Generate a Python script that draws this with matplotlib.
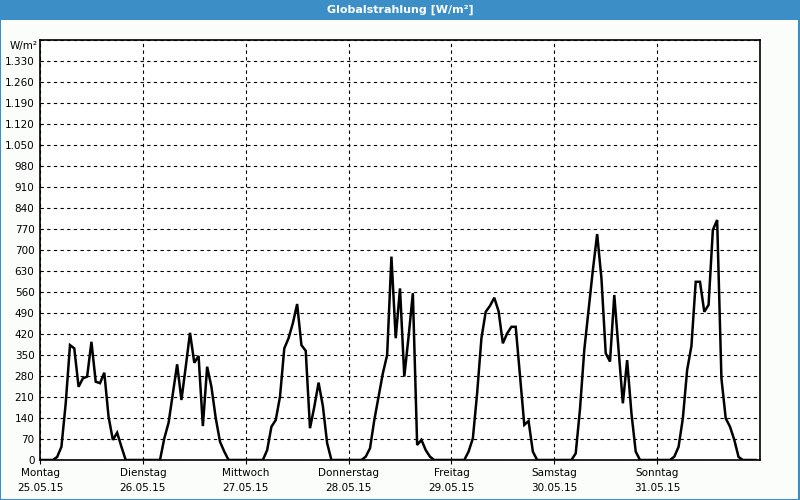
import matplotlib
matplotlib.use("Agg")
import matplotlib.pyplot as plt
from matplotlib.patches import Rectangle
from matplotlib.ticker import FuncFormatter, MultipleLocator

# =================== DATEN (stündliche Werte, W/m²) ===================
tage = ["Montag", "Dienstag", "Mittwoch", "Donnerstag", "Freitag", "Samstag", "Sonntag"]
daten = ["25.05.15", "26.05.15", "27.05.15", "28.05.15", "29.05.15", "30.05.15", "31.05.15"]

montag = [0, 0, 0, 0, 10, 44, 189, 383, 372, 244, 272, 278, 394, 261, 256, 291, 144, 67, 91, 44, 0, 0, 0, 0]
dienstag = [0, 0, 0, 0, 0, 72, 124, 222, 319, 200, 310, 424, 324, 347, 113, 311, 244, 140, 61, 28, 0, 0, 0, 0]
mittwoch = [0, 0, 0, 0, 0, 33, 111, 133, 211, 372, 406, 456, 520, 383, 364, 106, 177, 258, 180, 56, 0, 0, 0, 0]
donnerstag = [0, 0, 0, 0, 11, 39, 133, 211, 289, 350, 678, 406, 572, 278, 411, 556, 50, 67, 33, 11, 0, 0, 0, 0]
freitag = [0, 0, 0, 0, 28, 72, 223, 406, 494, 514, 541, 496, 389, 422, 444, 444, 281, 117, 130, 28, 0, 0, 0, 0]
samstag = [0, 0, 0, 0, 0, 22, 170, 367, 500, 633, 753, 606, 356, 328, 550, 367, 189, 333, 156, 28, 0, 0, 0, 0]
sonntag = [0, 0, 0, 0, 11, 44, 139, 300, 380, 594, 594, 494, 517, 767, 800, 272, 139, 111, 67, 10, 0, 0, 0, 0]

werte = montag + dienstag + mittwoch + donnerstag + freitag + samstag + sonntag
stunden = list(range(len(werte)))

BLAU = "#3b8fc6"
HINTERGRUND = "#fbfdfb"

# =================== PLOT ===================
fig = plt.figure(figsize=(8, 5), dpi=100, facecolor=HINTERGRUND)

# Titelleiste und Rahmen
fig.patches.append(Rectangle((0, 0.96), 1, 0.04, transform=fig.transFigure,
                             facecolor=BLAU, edgecolor="none", zorder=0))
fig.patches.append(Rectangle((0.0006, 0.001), 0.9982, 0.998, transform=fig.transFigure,
                             facecolor="none", edgecolor=BLAU, linewidth=1.5, zorder=5))
fig.text(0.5, 0.98, "Globalstrahlung [W/m²]", color="white", fontsize=8,
         fontweight="bold", ha="center", va="center")

ax = fig.add_axes([0.05, 0.08, 0.9, 0.84])
ax.set_facecolor("white")
ax.plot(stunden, werte, color="black", linewidth=1.8, solid_joinstyle="miter", zorder=3)

ax.set_xlim(0, 168)
ax.set_ylim(0, 1400)

ax.yaxis.set_major_locator(MultipleLocator(70))
ax.yaxis.set_major_formatter(FuncFormatter(
    lambda v, _: "" if v > 1330 else f"{int(v):,}".replace(",", ".")))
ax.set_xticks([24 * i for i in range(7)])
ax.set_xticklabels([f"{t}\n{d}" for t, d in zip(tage, daten)], linespacing=1.55)

ax.grid(True, color="black", linestyle=(0, (3, 3)), linewidth=0.8)
ax.tick_params(axis="y", length=0, pad=4, labelsize=7.5)
ax.tick_params(axis="x", length=3, pad=3, labelsize=7.5)
for s in ax.spines.values():
    s.set_linewidth(1.2)

fig.text(0.047, 0.908, "W/m²", fontsize=7.5, ha="right", va="center")

plt.savefig("out.png", dpi=100, facecolor=HINTERGRUND)
plt.close()
